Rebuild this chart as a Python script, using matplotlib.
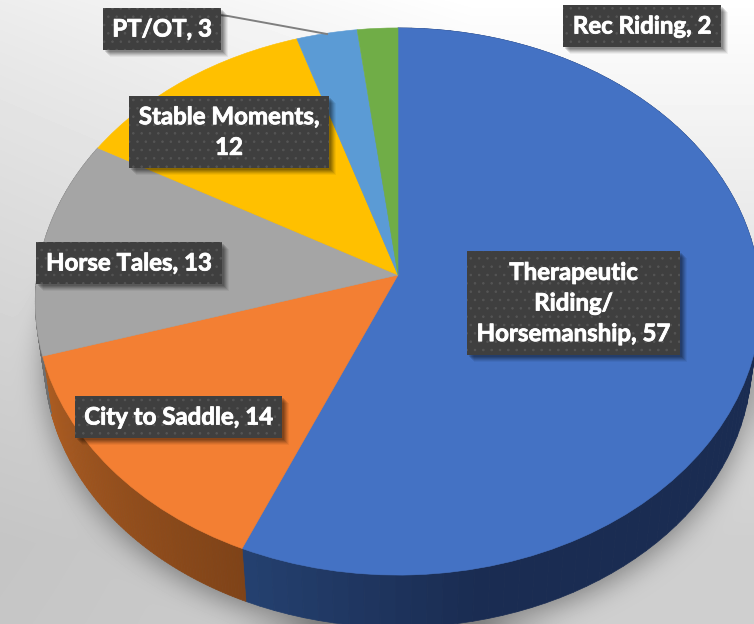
import numpy as np
import matplotlib
matplotlib.use("Agg")
import matplotlib.pyplot as plt
from matplotlib.transforms import Transform
from matplotlib.collections import PolyCollection
from matplotlib.patches import Rectangle
import matplotlib.patheffects as pe
from matplotlib.colors import to_rgb

categories = ["Therapeutic\nRiding/\nHorsemanship", "City to Saddle", "Horse Tales",
              "Stable Moments,\n", "PT/OT", "Rec Riding"]
values = [57, 14, 13, 12, 3, 2]
colors = ["#4472C4", "#F37F33", "#A5A5A5", "#FFC000", "#5B9BD5", "#70AD47"]
side_light = {0: "#24406F", 1: "#AD5D22", 2: "#6E6E6E"}
side_dark = {0: "#1A2C52", 1: "#7F4318", 2: "#6E6E6E"}

W, H = 754, 624
K = -0.0969


class Disc(Transform):
    """Perspective view of a flat unit disc, drawn in pixel coordinates."""
    input_dims = output_dims = 2
    has_inverse = False

    def __init__(self, x0, y0, a, b):
        super().__init__()
        self.p = (x0, y0, a, b)

    def transform_non_affine(self, xy):
        x0, y0, a, b = self.p
        xy = np.asarray(xy, float)
        v = -xy[:, 1]
        d = 1 + K * v
        return np.column_stack([x0 + a * xy[:, 0] / d, y0 + b * v / d])

    def transform_path_non_affine(self, path):
        return type(path)(self.transform_non_affine(path.vertices), path.codes)


top = Disc(398, 275, 361, 271)
low = Disc(398, 335, 352, 264)

fig = plt.figure(figsize=(W / 100, H / 100), dpi=100)
ax = fig.add_axes([0, 0, 1, 1])

# backdrop
yy, xx = np.mgrid[0:H, 0:W]
gx, gy = xx / W, yy / H
bg = 1.0 - 0.19 * np.clip(gy * 1.15, 0, 1) ** 0.9 - 0.07 * np.clip(1 - gx * 1.6, 0, 1) * (1 - 0.5 * gy)

# soft shadow of the pie on the backdrop
t = np.linspace(0, 2 * np.pi, 721)
rim = low.transform_non_affine(np.column_stack([np.cos(t), np.sin(t)]))
fig_m = plt.figure(figsize=(W / 100, H / 100), dpi=100)
ax_m = fig_m.add_axes([0, 0, 1, 1])
ax_m.set_xlim(0, W)
ax_m.set_ylim(H, 0)
ax_m.axis("off")
ax_m.fill(rim[:, 0], rim[:, 1] + 6, "k")
fig_m.canvas.draw()
mask = 1 - np.asarray(fig_m.canvas.buffer_rgba())[:, :, 0] / 255.0
plt.close(fig_m)


def box_blur(a, r, axis):
    pad = [(r + 1, r) if i == axis else (0, 0) for i in range(2)]
    c = np.cumsum(np.pad(a, pad, mode="edge"), axis=axis)
    hi = np.take(c, range(2 * r + 1, c.shape[axis]), axis=axis)
    lo = np.take(c, range(0, c.shape[axis] - 2 * r - 1), axis=axis)
    return (hi - lo) / (2 * r + 1)


for _ in range(3):
    mask = box_blur(box_blur(mask, 13, 0), 13, 1)
bg = bg * (1 - 0.40 * mask)
ax.imshow(bg, cmap="gray", vmin=0, vmax=1, extent=(0, W, H, 0), aspect="auto",
          interpolation="bilinear", zorder=0)

# pie top surface
wedges, _ = ax.pie(values, colors=colors, startangle=90, counterclock=False, radius=1,
                   wedgeprops=dict(linewidth=0.4))
ax.set_aspect("auto")
ax.set_xlim(0, W)
ax.set_ylim(H, 0)
ax.axis("off")
for w, c in zip(wedges, colors):
    w.set_transform(top + ax.transData)
    w.set_edgecolor(c)
    w.set_zorder(3)

# pie side wall
for i, w in enumerate(wedges):
    if i not in side_light:
        continue
    th = np.radians(np.linspace(w.theta1, w.theta2, 90))
    pts = np.column_stack([np.cos(th), np.sin(th)])
    a, b = top.transform_non_affine(pts), low.transform_non_affine(pts)
    quads = [np.vstack([a[j], a[j + 1], b[j + 1], b[j]]) for j in range(len(th) - 1)]
    c0, c1 = np.array(to_rgb(side_light[i])), np.array(to_rgb(side_dark[i]))
    f = np.linspace(0, 1, len(quads))
    if i == 0:
        f = np.clip(f * 6, 0, 1)
    fc = [c0 + (c1 - c0) * x for x in f]
    ax.add_collection(PolyCollection(quads, facecolors=fc, edgecolors=fc, linewidths=0.5, zorder=2))

# leader line
ax.plot([219, 228, 327], [15, 16, 34], color="#7F7F7F", lw=1.4, zorder=4)

# data labels
label_texts = [
    f"{categories[0]}, {values[0]}",
    f"{categories[1]}, {values[1]}",
    f"{categories[2]}, {values[2]}",
    f"{categories[3]}{values[3]}",
    f"{categories[4]}, {values[4]}",
    f"{categories[5]}, {values[5]}",
]
label_x = [573.5, 178.5, 129, 229, 162, 642]
label_y = [303, 417, 263, 132, 29, 26]
plt.rcParams["hatch.linewidth"] = 0.6
labels = []
for s, x, y in zip(label_texts, label_x, label_y):
    t_ = ax.text(x, y, s, ha="center", va="center", color="white", fontsize=17.3,
                 family=["Lato", "DejaVu Sans"], weight="bold", linespacing=1.4, zorder=6,
                 bbox=dict(boxstyle="square,pad=0.4", facecolor="#3F3F3F", edgecolor="#555555",
                           hatch="..", linewidth=0))
    t_.set_path_effects([pe.withStroke(linewidth=0.6, foreground="white")])
    labels.append(t_)

# soft box shadows, sized from the drawn boxes
fig.canvas.draw()
for t_ in labels:
    bb = t_.get_bbox_patch().get_window_extent()
    x0, x1 = bb.x0, bb.x1
    y0, y1 = H - bb.y1, H - bb.y0
    for off, alpha in [(7, 0.05), (6, 0.07), (5, 0.09), (4, 0.11), (3, 0.12), (2, 0.12)]:
        ax.add_patch(Rectangle((x0 + off, y0 + off), x1 - x0, y1 - y0, facecolor="black",
                               edgecolor="none", alpha=alpha, zorder=5))

fig.savefig("out.png", dpi=100)
